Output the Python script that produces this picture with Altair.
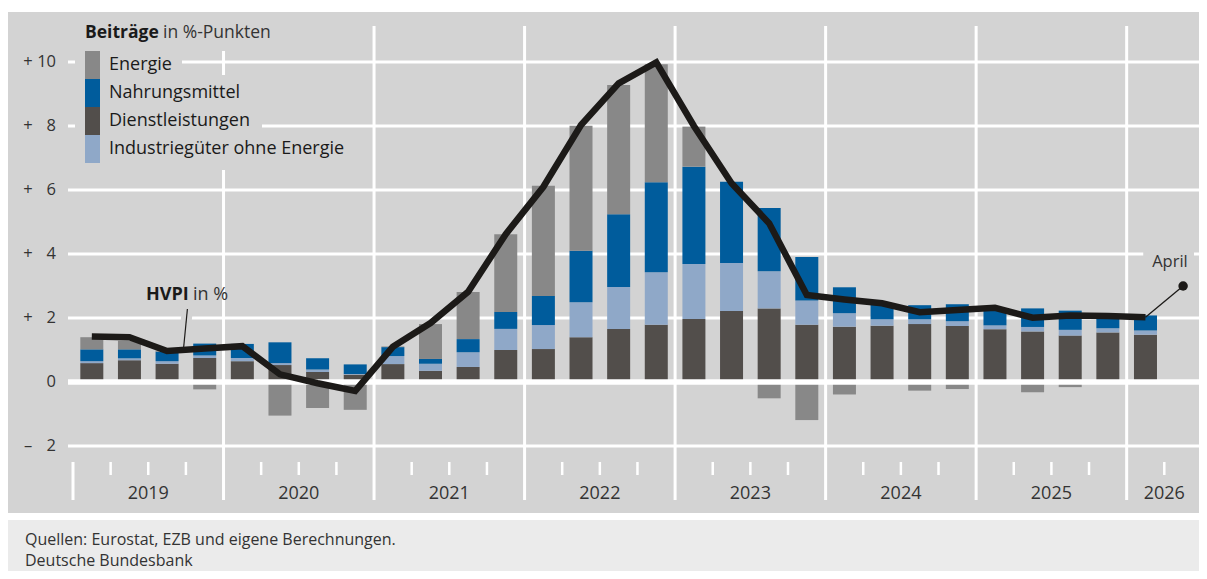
import altair as alt
import pandas as pd

# ---------------- data ----------------
years = ["2019", "2020", "2021", "2022", "2023", "2024", "2025", "2026"]
quarters = ["Q1", "Q2", "Q3", "Q4"]
periods = [f"{y} {q}" for y in years[:-1] for q in quarters] + ["2026 Q1"]

components = ["Energie", "Nahrungsmittel", "Dienstleistungen", "Industriegüter ohne Energie"]

energie = [0.38, 0.27, 0.03, -0.23, 0.00, -1.05, -0.81, -0.87,
           0.02, 1.09, 1.47, 2.43, 3.44, 3.91, 4.04, 3.69,
           1.25, 0.00, -0.51, -1.19, -0.39, 0.05, -0.27, -0.22,
           0.00, -0.32, -0.16, -0.06, 0.00]
nahrungsmittel = [0.37, 0.28, 0.30, 0.37, 0.44, 0.65, 0.35, 0.30,
                  0.28, 0.15, 0.41, 0.53, 0.91, 1.61, 2.27, 2.81,
                  3.04, 2.54, 1.98, 1.36, 0.81, 0.45, 0.44, 0.53,
                  0.53, 0.58, 0.60, 0.41, 0.47]
dienstleistungen = [0.59, 0.68, 0.57, 0.75, 0.65, 0.53, 0.31, 0.23,
                    0.56, 0.35, 0.47, 1.00, 1.03, 1.40, 1.66, 1.79,
                    1.97, 2.22, 2.30, 1.79, 1.73, 1.76, 1.81, 1.75,
                    1.65, 1.58, 1.45, 1.55, 1.48]
industriegueter = [0.06, 0.06, 0.08, 0.08, 0.10, 0.06, 0.08, 0.02,
                   0.25, 0.22, 0.46, 0.66, 0.75, 1.09, 1.31, 1.64,
                   1.72, 1.50, 1.16, 0.76, 0.42, 0.20, 0.15, 0.15,
                   0.12, 0.14, 0.18, 0.13, 0.13]
hvpi = [1.42, 1.40, 0.97, 1.05, 1.12, 0.24, -0.04, -0.28,
        1.10, 1.84, 2.82, 4.62, 6.10, 8.03, 9.33, 9.99,
        8.00, 6.21, 4.96, 2.72, 2.58, 2.46, 2.18, 2.25,
        2.32, 2.01, 2.08, 2.06, 2.02]

y_ticks = [-2, 0, 2, 4, 6, 8, 10]
y_signs = ["–", "", "+", "+", "+", "+", "+"]
y_nums = ["2", "0", "2", "4", "6", "8", "10"]

legend_title_bold = "Beiträge"
legend_title_rest = "in %-Punkten"
line_label_bold = "HVPI"
line_label_rest = "in %"
last_label = "April"
april_marker_value = 3.0
sources = "Quellen: Eurostat, EZB und eigene Berechnungen."
publisher = "Deutsche Bundesbank"

# ---------------- styles ----------------
SLOT_PX = 1139 / 30          # pixel width of one quarter slot
W, H = 1131, 384             # plot area (page x 68..1199, page y 62..446)
N_SLOTS = 30
X_MAX = W / SLOT_PX
F = "Open Sans"
BG = "#d3d3d3"
FOOT = "#ebebeb"
TXT = "#333333"
DARK = "#1c1a18"
colors = ["#888888", "#005c9c", "#524e4b", "#8fa8c8"]
stack_rank = {"Dienstleistungen": 0, "Industriegüter ohne Energie": 1,
              "Nahrungsmittel": 2, "Energie": 3}
legend_box_right = [114, 184, 194, 289]

xs = alt.Scale(domain=[0, X_MAX], nice=False, zero=False)
ys = alt.Scale(domain=[-2, 10], nice=False, zero=False)
X = lambda f: alt.X(f, scale=xs, axis=None)
Y = lambda f: alt.Y(f, scale=ys, axis=None)

series = {"Energie": energie, "Nahrungsmittel": nahrungsmittel,
          "Dienstleistungen": dienstleistungen,
          "Industriegüter ohne Energie": industriegueter}

# stacked bar table (positive and negative stacked separately)
rows = []
for i, p in enumerate(periods):
    pos, neg = 0.0, 0.0
    for c in sorted(components, key=lambda k: stack_rank[k]):
        v = series[c][i]
        if v >= 0:
            y0, y1 = pos, pos + v
            pos = y1
        else:
            y0, y1 = neg, neg + v
            neg = y1
        rows.append({"period": p, "slot": i + 0.5, "component": c,
                     "value": v, "y0": y0, "y1": y1})
bars_df = pd.DataFrame(rows)
line_df = pd.DataFrame({"period": periods, "slot": [i + 0.5 for i in range(len(periods))], "hvpi": hvpi})

one = pd.DataFrame({"a": [0]})


def prect(x, x2, y, y2, color):
    return alt.Chart(one).mark_rect(color=color).encode(
        x=alt.value(x), x2=alt.value(x2), y=alt.value(y), y2=alt.value(y2))


layers = []
# backgrounds
layers.append(prect(-61, W + 10, -50, 451, BG))
layers.append(prect(-61, W + 10, 458, 520, FOOT))

# horizontal gridlines
tick_df = pd.DataFrame({"v": y_ticks, "sign": y_signs, "num": y_nums})
layers.append(alt.Chart(tick_df[tick_df.v != 0]).mark_rule(color="white", strokeWidth=3).encode(
    y=Y("v:Q"), x=alt.value(0), x2=alt.value(W + 10)))

# year boundaries / quarter ticks
bounds = list(range(0, N_SLOTS + 1))
full_df = pd.DataFrame({"b": [b for b in bounds if b % 4 == 0 and 0 < b < N_SLOTS]})
layers.append(alt.Chart(full_df).mark_rule(color="white", strokeWidth=3).encode(
    x=X("b:Q"), y=alt.value(-36), y2=alt.value(438)))
layers.append(alt.Chart(pd.DataFrame({"b": [0]})).mark_rule(color="white", strokeWidth=3).encode(
    x=X("b:Q"), y=alt.value(400), y2=alt.value(438)))
q_df = pd.DataFrame({"b": [b for b in bounds if b % 4 != 0 and b < X_MAX]})
layers.append(alt.Chart(q_df).mark_rule(color="white", strokeWidth=2.5).encode(
    x=X("b:Q"), y=alt.value(400), y2=alt.value(413)))

# legend
layers.append(prect(12, 210, -44, -11, BG))
leg_rows = []
for i, c in enumerate(components):
    top = -11 + 28 * i
    leg_rows.append({"component": c, "color": colors[i], "top": top, "bottom": top + 28,
                     "cy": top + 14, "btop": top - 4,
                     "bbot": top + 28 + (7 if i == len(components) - 1 else 0),
                     "bleft": 7, "bright": legend_box_right[i]})
leg_df = pd.DataFrame(leg_rows)
layers.append(alt.Chart(leg_df).mark_rect(color=BG).encode(
    x=alt.X("bleft:Q", scale=None), x2="bright:Q",
    y=alt.Y("btop:Q", scale=None), y2="bbot:Q"))
layers.append(alt.Chart(leg_df).mark_rect().encode(
    x=alt.value(17), x2=alt.value(32),
    y=alt.Y("top:Q", scale=None), y2="bottom:Q",
    color=alt.Color("color:N", scale=None)))
layers.append(alt.Chart(leg_df).mark_text(align="left", baseline="middle", font=F, fontSize=18,
                                          fontWeight=500, color="#1a1a1a").encode(
    x=alt.value(41), y=alt.Y("cy:Q", scale=None), text="component:N"))
layers.append(alt.Chart(one).mark_text(align="left", baseline="middle", font=F, fontSize=17.5,
                                       fontWeight="bold", color="#1a1a1a").encode(
    x=alt.value(17), y=alt.value(-29), text=alt.value(legend_title_bold)))
layers.append(alt.Chart(one).mark_text(align="left", baseline="middle", font=F, fontSize=17.5,
                                       color=TXT).encode(
    x=alt.value(95), y=alt.value(-29), text=alt.value(legend_title_rest)))

# bars
layers.append(alt.Chart(bars_df).mark_bar(width=23).encode(
    x=X("slot:Q"), y=Y("y0:Q"), y2="y1:Q",
    color=alt.Color("component:N", scale=alt.Scale(domain=components, range=colors), legend=None),
    tooltip=["period:N", "component:N", "value:Q"]))

# zero line
layers.append(alt.Chart(tick_df[tick_df.v == 0]).mark_rule(color="white", strokeWidth=5.5).encode(
    y=Y("v:Q"), x=alt.value(0), x2=alt.value(W + 10)))

# HVPI label + leader
hv_lead = pd.DataFrame({"x": [3.04, 2.94], "y": [2.28, 1.08], "o": [0, 1]})
hv_halo = pd.DataFrame({"x": [3.04, 2.99], "y": [2.28, 1.70], "o": [0, 1]})
layers.append(alt.Chart(hv_halo).mark_line(color=BG, strokeWidth=11).encode(
    x=X("x:Q"), y=Y("y:Q"), order="o:Q"))
layers.append(alt.Chart(hv_lead).mark_line(color=DARK, strokeWidth=1.2).encode(
    x=X("x:Q"), y=Y("y:Q"), order="o:Q"))
layers.append(alt.Chart(one).mark_text(align="left", baseline="middle", font=F, fontSize=18,
                                       fontWeight="bold", color="#1a1a1a").encode(
    x=alt.value(78), y=alt.value(233), text=alt.value(line_label_bold)))
layers.append(alt.Chart(one).mark_text(align="left", baseline="middle", font=F, fontSize=18,
                                       color=TXT).encode(
    x=alt.value(125), y=alt.value(233), text=alt.value(line_label_rest)))

# April annotation
last_slot = len(periods) - 0.5
ap_box = pd.DataFrame({"x": [28.44], "x2": [X_MAX], "y": [3.31], "y2": [4.25]})
layers.append(alt.Chart(ap_box).mark_rect(color=BG).encode(
    x=X("x:Q"), x2="x2:Q", y=Y("y:Q"), y2="y2:Q"))
ap_txt = pd.DataFrame({"x": [29.15], "y": [3.74], "t": [last_label]})
layers.append(alt.Chart(ap_txt).mark_text(align="center", baseline="middle", font=F, fontSize=16.5,
                                          color=TXT).encode(
    x=X("x:Q"), y=Y("y:Q"), text="t:N"))
ap_lead = pd.DataFrame({"x": [last_slot, last_slot + 1], "y": [hvpi[-1], april_marker_value], "o": [0, 1]})
layers.append(alt.Chart(ap_lead).mark_line(color=DARK, strokeWidth=1.3).encode(
    x=X("x:Q"), y=Y("y:Q"), order="o:Q"))

# HVPI line
layers.append(alt.Chart(line_df).mark_line(color=DARK, strokeWidth=6.5, strokeJoin="miter").encode(
    x=X("slot:Q"), y=Y("hvpi:Q"), tooltip=["period:N", "hvpi:Q"]))

layers.append(alt.Chart(ap_lead.iloc[[1]]).mark_point(filled=True, color=DARK, size=90, opacity=1).encode(
    x=X("x:Q"), y=Y("y:Q")))

# y labels
layers.append(alt.Chart(tick_df).mark_text(align="center", baseline="middle", font=F, fontSize=16.5,
                                           color=TXT).encode(
    y=Y("v:Q"), x=alt.value(-40), text="sign:N"))
layers.append(alt.Chart(tick_df).mark_text(align="right", baseline="middle", font=F, fontSize=16.5,
                                           color=TXT).encode(
    y=Y("v:Q"), x=alt.value(-12), text="num:N"))

# year labels
yr_df = pd.DataFrame({"year": years,
                      "center": [(4 * k + min(4 * k + 4, N_SLOTS)) / 2 for k in range(len(years))]})
layers.append(alt.Chart(yr_df).mark_text(align="center", baseline="middle", font=F, fontSize=18,
                                         color=TXT).encode(
    x=X("center:Q"), y=alt.value(432), text="year:N"))

# footer
layers.append(alt.Chart(one).mark_text(align="left", baseline="middle", font=F, fontSize=16,
                                       color=TXT).encode(
    x=alt.value(-43), y=alt.value(478), text=alt.value(sources)))
layers.append(alt.Chart(one).mark_text(align="left", baseline="middle", font=F, fontSize=16,
                                       color=TXT).encode(
    x=alt.value(-43), y=alt.value(499), text=alt.value(publisher)))

chart = alt.layer(*layers).properties(
    width=W, height=H,
    padding={"left": 60, "top": 54, "right": 0, "bottom": 125},
    autosize=alt.AutoSizeParams(type="none"),
    background="white",
).configure_view(stroke=None)

chart.save("out.html", embed_options={"renderer": "svg", "actions": False})
